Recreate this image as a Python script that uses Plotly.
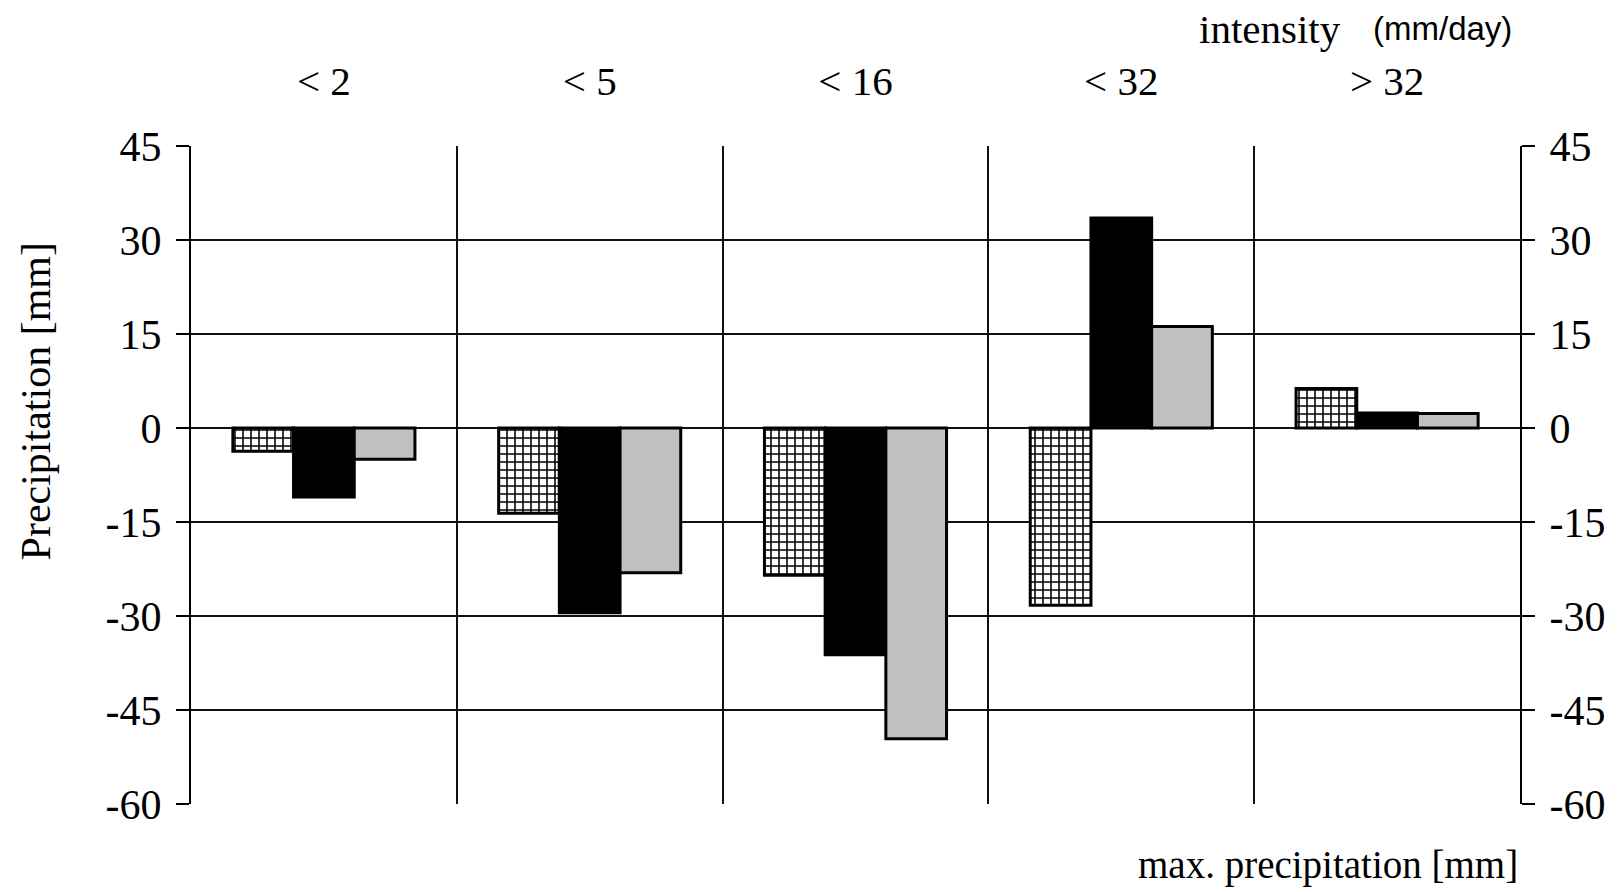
import plotly.graph_objects as go

categories = ["< 2", "< 5", "< 16", "< 32", "> 32"]
series_hatched = [-3.7, -13.6, -23.5, -28.3, 6.3]
series_black = [-11.0, -29.5, -36.2, 33.5, 2.4]
series_gray = [-5.0, -23.1, -49.6, 16.2, 2.3]
y_ticks = [-60, -45, -30, -15, 0, 15, 30, 45]
y_tick_text = ["-60", "-45", "-30", "-15", "0", "15", "30", "45"]

SERIF = "Liberation Serif, Times New Roman, serif"
SANS = "Liberation Sans, Arial, sans-serif"
edge = dict(color="black", width=3)

fig = go.Figure()
fig.add_bar(x=categories, y=series_hatched, name="hatched",
            marker=dict(color="white", line=edge,
                        pattern=dict(shape="+", fgcolor="black", bgcolor="white",
                                     size=8, solidity=0.35, fillmode="replace")))
fig.add_bar(x=categories, y=series_black, name="black",
            marker=dict(color="black", line=edge))
fig.add_bar(x=categories, y=series_gray, name="gray",
            marker=dict(color="#C0C0C0", line=edge))
# invisible helper so that the right-hand axis is drawn
fig.add_scatter(x=categories, y=series_black, yaxis="y2", mode="markers",
                marker=dict(opacity=0), showlegend=False, hoverinfo="skip")

axis_common = dict(range=[-60, 45], tickvals=y_ticks, ticktext=y_tick_text,
                   ticks="outside", ticklen=13, ticklabelstandoff=6,
                   tickcolor="black", tickwidth=1.5, showline=True, linecolor="black",
                   linewidth=2, zeroline=False, automargin=False,
                   tickfont=dict(family=SERIF, size=42, color="black"))

fig.update_layout(
    width=1617, height=892,
    margin=dict(l=191, r=97, t=146, b=88, autoexpand=False),
    paper_bgcolor="white", plot_bgcolor="white",
    barmode="group", bargap=0.315, bargroupgap=0,
    showlegend=False,
    xaxis=dict(type="category", side="top", range=[-0.5, 4.5], tickson="boundaries",
               showgrid=True, gridcolor="#111", gridwidth=2, ticks="",
               ticklabelstandoff=42, automargin=False,
               showline=False, zeroline=False,
               tickfont=dict(family=SERIF, size=41, color="black")),
    yaxis=dict(**axis_common, showgrid=True, gridcolor="#111", gridwidth=2),
    yaxis2=dict(**axis_common, overlaying="y", side="right", showgrid=False),
    annotations=[
        dict(text="Precipitation [mm]", xref="paper", yref="paper", x=-0.117, y=0.611,
             textangle=-90, showarrow=False, xanchor="center", yanchor="middle",
             font=dict(family=SERIF, size=42, color="black")),
        dict(text="max. precipitation [mm]", xref="paper", yref="paper", x=1.0, y=-0.092,
             showarrow=False, xanchor="right", yanchor="middle",
             font=dict(family=SERIF, size=39, color="black")),
        dict(text="intensity", xref="paper", yref="paper", x=0.867, y=1.178,
             showarrow=False, xanchor="right", yanchor="middle",
             font=dict(family=SERIF, size=41, color="black")),
        dict(text="(mm/day)", xref="paper", yref="paper", x=0.9955, y=1.178,
             showarrow=False, xanchor="right", yanchor="middle",
             font=dict(family=SANS, size=33, color="black")),
    ],
)

fig.write_html("out.html", config={"displayModeBar": False},
               post_script="document.body.style.margin='0';document.body.style.overflow='hidden';")
